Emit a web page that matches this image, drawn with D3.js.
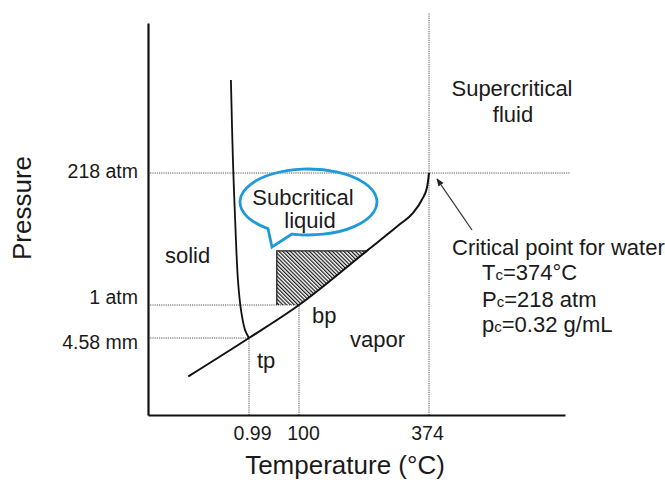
<!DOCTYPE html>
<html>
<head>
<meta charset="utf-8">
<script src="https://cdn.jsdelivr.net/npm/d3@7"></script>
<style>
  body { margin: 0; background: #fff; }
  text { font-family: "Liberation Sans", Arial, sans-serif; fill: #1a1a1a; }
</style>
</head>
<body>
<div id="wrapper"></div>
<script>
// temperature (°C) and pressure (atm) ticks
const tempTicks = [0.99, 100, 374]
const tempLabels = ["0.99", "100", "374"]
const pressTicks = [0.006, 1, 218]
const pressLabels = ["4.58 mm", "1 atm", "218 atm"]

// liquid-vapor curve (triple point -> critical point)
const vaporT = [-120, 0.99, 100, 243, 313, 340, 359, 370, 374]
const vaporP = [0.003, 0.006, 1, 90, 134, 152, 174, 195, 218]
// solid-liquid curve
const meltT = [-35, -31, -25, -21, -15, -7, 0.99]
const meltP = [368, 239, 108, 42, 0.85, 0.25, 0.006]

// subcritical water window (hatched)
const subT = [56, 243]
const subP = [1, 90]

const width = 665
const height = 480

// schematic axes, so scales are piecewise linear between the key points
const x = d3.scaleLinear()
    .domain([-200, 0.99, 100, 374, 660])
    .range([148, 249, 299, 429, 565])
const y = d3.scaleLinear()
    .domain([0, 0.006, 1, 218, 460])
    .range([415, 338, 305, 173, 23])

const vapor = vaporT.map((t, i) => ({t: t, p: vaporP[i]}))
const melt = meltT.map((t, i) => ({t: t, p: meltP[i]}))

const svg = d3.select("#wrapper")
  .append("svg")
    .attr("width", width)
    .attr("height", height)

const defs = svg.append("defs")
const hatch = defs.append("pattern")
    .attr("id", "hatch")
    .attr("patternUnits", "userSpaceOnUse")
    .attr("width", 2.7)
    .attr("height", 2.7)
    .attr("patternTransform", "rotate(-45)")
hatch.append("line")
    .attr("x1", 0.6).attr("y1", 0)
    .attr("x2", 0.6).attr("y2", 2.7)
    .attr("stroke", "#1a1a1a")
    .attr("stroke-width", 1.25)

const curve = d3.curveMonotoneX

// liquid side of the vapor curve, used to clip the hatch
defs.append("clipPath")
    .attr("id", "liquidSide")
  .append("path")
    .attr("d", d3.area()
        .x(d => x(d.t))
        .y0(0)
        .y1(d => y(d.p))
        .curve(curve)(vapor))

// dotted guide lines
const guides = svg.append("g")
    .attr("stroke", "#555")
    .attr("stroke-width", 1)
    .attr("stroke-dasharray", "1.2,1")
    .attr("fill", "none")

const guideLines = [
  [[-200, 218], [670, 218]],
  [[374, 0], [374, 476]],
  [[-200, 1], [100, 1]],
  [[-200, 0.006], [0.99, 0.006]],
  [[0.99, 0], [0.99, 0.006]],
  [[100, 0], [100, 1]],
]
guideLines.forEach(([a, b]) => {
  guides.append("line")
      .attr("x1", x(a[0])).attr("y1", y(a[1]))
      .attr("x2", x(b[0])).attr("y2", y(b[1]))
})

// hatched region
svg.append("rect")
    .attr("x", x(subT[0]))
    .attr("y", y(subP[1]))
    .attr("width", x(subT[1]) + 5 - x(subT[0]))
    .attr("height", y(subP[0]) - y(subP[1]))
    .attr("fill", "url(#hatch)")
    .attr("clip-path", "url(#liquidSide)")
svg.append("path")
    .attr("d", `M${x(subT[0])},${y(subP[0])}V${y(subP[1])}H${x(subT[1])}`)
    .attr("fill", "none")
    .attr("stroke", "#222")
    .attr("stroke-width", 1.3)

// phase boundaries
const line = d3.line()
    .x(d => x(d.t))
    .y(d => y(d.p))
    .curve(curve)
svg.append("path")
    .attr("d", line(vapor))
    .attr("fill", "none")
    .attr("stroke", "#111")
    .attr("stroke-width", 2)
svg.append("path")
    .attr("d", line.curve(d3.curveCatmullRom.alpha(0.5))(melt))
    .attr("fill", "none")
    .attr("stroke", "#111")
    .attr("stroke-width", 1.8)

// axes
const yNudge = [4, -8, -2]
const yAxis = svg.append("g")
    .attr("transform", `translate(${x.range()[0]},0)`)
    .call(d3.axisLeft(y)
        .tickValues(pressTicks)
        .tickFormat((d, i) => pressLabels[i])
        .tickSize(0)
        .tickPadding(10))
yAxis.select(".domain").attr("stroke", "#111").attr("stroke-width", 2.2)
yAxis.selectAll("text")
    .attr("font-size", 19.5)
    .attr("font-family", null)
    .attr("fill", null)
    .attr("y", (d, i) => yNudge[i])

const xNudge = [3, 4, -2]
const xAxis = svg.append("g")
    .attr("transform", `translate(0,${y.range()[0]})`)
    .call(d3.axisBottom(x)
        .tickValues(tempTicks)
        .tickFormat((d, i) => tempLabels[i])
        .tickSize(0)
        .tickPadding(11))
xAxis.select(".domain").attr("stroke", "#111").attr("stroke-width", 2.2)
xAxis.selectAll("text")
    .attr("font-size", 19.5)
    .attr("font-family", null)
    .attr("fill", null)
    .attr("dx", (d, i) => xNudge[i])

svg.append("text")
    .attr("transform", "translate(31,208) rotate(-90)")
    .attr("text-anchor", "middle")
    .attr("font-size", 26)
    .text("Pressure")
svg.append("text")
    .attr("x", 345)
    .attr("y", 474)
    .attr("text-anchor", "middle")
    .attr("font-size", 26)
    .text("Temperature (°C)")

// region labels
const label = (tx, ty, s, anchor = "start") => svg.append("text")
    .attr("x", tx).attr("y", ty)
    .attr("text-anchor", anchor)
    .attr("font-size", 22)
    .text(s)
label(165, 263, "solid")
label(312, 323, "bp")
label(350, 347, "vapor")
label(257, 368, "tp")
label(512, 96, "Supercritical", "middle")
label(513, 122, "fluid", "middle")

// speech bubble
const bx = 308.5, by = 202, rx = 68.5, ry = 33
const angAt = px => Math.acos((px - bx) / rx)
const a1 = angAt(268), a2 = angAt(292)
const ep = a => [bx + rx * Math.cos(a), by + ry * Math.sin(a)]
const [p1x, p1y] = ep(a1)
const [p2x, p2y] = ep(a2)
svg.append("path")
    .attr("d", `M${p2x},${p2y}A${rx},${ry} 0 1 0 ${p1x},${p1y}L272,247Z`)
    .attr("fill", "none")
    .attr("stroke", "#1e9ad6")
    .attr("stroke-width", 2.8)
    .attr("stroke-linejoin", "miter")
label(303, 205, "Subcritical", "middle")
label(310, 228, "liquid", "middle")

// critical point annotation
const cx = x(374), cy = y(218)
defs.append("marker")
    .attr("id", "arrow")
    .attr("viewBox", "0 0 10 10")
    .attr("refX", 9).attr("refY", 5)
    .attr("markerWidth", 6).attr("markerHeight", 6)
    .attr("orient", "auto")
  .append("path")
    .attr("d", "M0,1L10,5L0,9Z")
    .attr("fill", "#222")
svg.append("line")
    .attr("x1", cx + 43).attr("y1", cy + 57)
    .attr("x2", cx + 8).attr("y2", cy + 6)
    .attr("stroke", "#333")
    .attr("stroke-width", 1.3)
    .attr("marker-end", "url(#arrow)")

label(452, 255, "Critical point for water")
const sub = (tx, ty, big, small, rest) => {
  const t = svg.append("text")
      .attr("x", tx).attr("y", ty)
      .attr("font-size", 22)
  t.append("tspan").text(big)
  t.append("tspan").attr("font-size", 15).text(small)
  t.append("tspan").text(rest)
}
sub(482, 280, "T", "c", "=374°C")
sub(482, 307, "P", "c", "=218 atm")
sub(482, 332, "p", "c", "=0.32 g/mL")
</script>
</body>
</html>
